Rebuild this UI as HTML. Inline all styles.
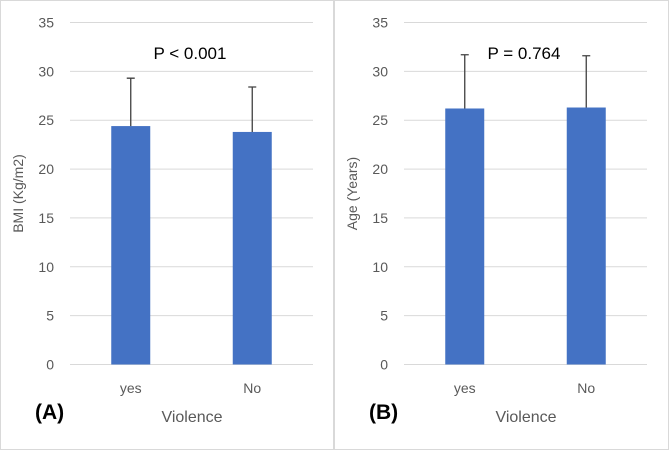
<!DOCTYPE html>
<html><head><meta charset="utf-8"><style>
html,body{margin:0;padding:0;background:#fff;}
svg{display:block;font-family:"Liberation Sans",sans-serif;}
</style></head><body>
<svg id="chart" width="669" height="450"></svg>
<script>
const categories = ["yes","No"];
const bmiValues = [24.4, 23.8];
const bmiErrors = [4.9, 4.6];
const ageValues = [26.2, 26.3];
const ageErrors = [5.5, 5.3];
const yTicks = [0,5,10,15,20,25,30,35];

const NS="http://www.w3.org/2000/svg";
const svg=document.getElementById('chart');
function mk(tag,attrs,parent,text){const e=document.createElementNS(NS,tag);for(const k in attrs)e.setAttribute(k,attrs[k]);if(text!==undefined)e.textContent=text;(parent||svg).appendChild(e);return e;}
const y0=364.5, y35=22.5;
function yScale(v){return y0-(v/35)*(y0-y35);}

function panel(ox,pw,values,errors,yTitle,pText,label,key){
  const g=mk('g',{});
  
  
  const border=mk('rect',{x:ox+0.5,y:0.5,width:pw-1,height:449,fill:'#fff',stroke:'#d9d9d9'},g);
  
  
  const px0=ox+70, px1=ox+313;
  yTicks.forEach(t=>{
    const l=mk('line',{x1:px0,x2:px1,y1:yScale(t),y2:yScale(t),stroke:'#d9d9d9','stroke-width':1},g);
    
    
    const tx=mk('text',{x:ox+54,y:yScale(t)+5,'text-anchor':'end','font-size':14,fill:'#595959'},g,String(t));
    
    
  });
  const bw=(px1-px0)/categories.length;
  categories.forEach((c,i)=>{
    const cx=px0+bw*(i+0.5);
    const b=mk('rect',{x:cx-19.5,y:yScale(values[i]),width:39,height:y0-yScale(values[i]),fill:'#4472c4'},g);
    
    
    const top=yScale(values[i]+errors[i]);
    const e=mk('path',{d:`M${cx} ${yScale(values[i])}V${top}M${cx-4} ${top}H${cx+4}`,stroke:'#404040','stroke-width':1.3,fill:'none'},g);
    
    
    const tl=mk('text',{x:cx,y:393,'text-anchor':'middle','font-size':14,fill:'#595959'},g,c);
    
    
  });
  const xt=mk('text',{x:ox+192,y:422,'text-anchor':'middle','font-size':16,fill:'#595959'},g,'Violence');
  
  
  const yt=mk('text',{x:0,y:0,'text-anchor':'middle','font-size':14,fill:'#595959',transform:`translate(${ox+23},${(y0+y35)/2}) rotate(-90)`},g,yTitle);
  
  
  const pt=mk('text',{x:ox+190,y:59,'text-anchor':'middle','font-size':17,fill:'#000'},g,pText);
  
  
  const lb=mk('text',{x:ox+35,y:419,'font-size':21,'font-weight':'bold',fill:'#000'},g,label);
  
  
}
panel(0,334,bmiValues,bmiErrors,'BMI (Kg/m2)','P < 0.001','(A)','a');
panel(334,335,ageValues,ageErrors,'Age (Years)','P = 0.764','(B)','b');
</script>
</body></html>
